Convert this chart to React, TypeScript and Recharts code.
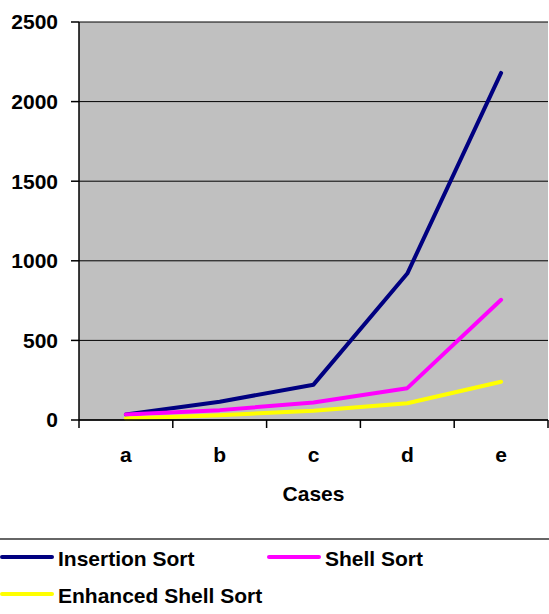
import React from 'react';
import { LineChart, Line, XAxis, YAxis, CartesianGrid } from 'recharts';

const cases = ['a', 'b', 'c', 'd', 'e'];
const insertionSort = [35, 115, 222, 920, 2180];
const shellSort = [35, 62, 110, 200, 755];
const enhancedShellSort = [10, 30, 58, 105, 240];
const yTicks = [0, 500, 1000, 1500, 2000, 2500];

const series = [
  { key: 'insertion', name: 'Insertion Sort', color: '#000080' },
  { key: 'shell', name: 'Shell Sort', color: '#FF00FF' },
  { key: 'enhanced', name: 'Enhanced Shell Sort', color: '#FFFF00' },
];

const data = cases.map((c, i) => ({
  case: c,
  insertion: insertionSort[i],
  shell: shellSort[i],
  enhanced: enhancedShellSort[i],
}));

const font = '"Liberation Sans", Arial, sans-serif';
const tickStyle = { fill: '#000', fontSize: 21, fontWeight: 'bold', fontFamily: font };
const LABEL_GAP = 27;

function ChartLegend() {
  const slots = [
    { x: 0, y: 557 },
    { x: 267, y: 557 },
    { x: 0, y: 594 },
  ];
  return (
    <svg width={549} height={76} style={{ position: 'absolute', left: 0, top: 538 }}>
      <line x1={0} y1={1} x2={549} y2={1} stroke="#333" strokeWidth={1.5} />
      {series.map((s, i) => {
        const p = slots[i];
        const y = p.y - 538;
        return (
          <g key={s.key}>
            <line x1={p.x + 2} y1={y} x2={p.x + 52} y2={y} stroke={s.color} strokeWidth={4} strokeLinecap="round" />
            <text x={p.x + 58} y={y + 9} fontSize={21} fontWeight="bold" fontFamily={font} fill="#000">
              {s.name}
            </text>
          </g>
        );
      })}
    </svg>
  );
}

// category label plus tick marks on the band edges
function CaseTick(props: any) {
  const { x, y, payload, index } = props;
  const half = payload.offset || 0;
  const axisY = y - LABEL_GAP;
  const last = index === cases.length - 1;
  return (
    <g>
      <line x1={x - half} y1={axisY} x2={x - half} y2={axisY + 8} stroke="#000" strokeWidth={1.5} />
      {last && <line x1={x + half} y1={axisY} x2={x + half} y2={axisY + 8} stroke="#000" strokeWidth={1.5} />}
      <text x={x} y={y} dy="0.71em" textAnchor="middle" {...tickStyle}>
        {payload.value}
      </text>
    </g>
  );
}

export default function App() {
  return (
    <div style={{ position: 'absolute', left: 0, top: 0, width: 549, height: 614, background: '#fff' }}>
      <LineChart width={549} height={614} data={data} margin={{ top: 22, right: 1, left: 0, bottom: 76 }}>
        <CartesianGrid vertical={false} stroke="#000" fill="#C0C0C0" fillOpacity={1} />
        <XAxis
          dataKey="case"
          scale="band"
          height={118}
          tickLine={false}
          tickSize={0}
          tickMargin={LABEL_GAP}
          axisLine={{ stroke: '#000', strokeWidth: 1.5 }}
          tick={CaseTick}
          label={{ value: 'Cases', position: 'insideBottom', offset: 37, style: tickStyle }}
        />
        <XAxis
          xAxisId="top"
          orientation="top"
          dataKey="case"
          scale="band"
          height={0}
          tick={false}
          tickLine={false}
          axisLine={{ stroke: '#808080', strokeWidth: 2.5 }}
        />
        <YAxis
          width={79}
          domain={[0, 2500]}
          ticks={yTicks}
          tickSize={8}
          tickMargin={13}
          axisLine={{ stroke: '#000', strokeWidth: 1.5 }}
          tickLine={{ stroke: '#000', strokeWidth: 1.5 }}
          tick={tickStyle}
        />
        <YAxis
          yAxisId="right"
          orientation="right"
          width={0}
          domain={[0, 2500]}
          tick={false}
          tickLine={false}
          axisLine={{ stroke: '#808080', strokeWidth: 1.5 }}
        />
        {series.map((s) => (
          <Line
            key={s.key}
            type="linear"
            dataKey={s.key}
            name={s.name}
            stroke={s.color}
            strokeWidth={4}
            strokeLinecap="round"
            strokeLinejoin="round"
            dot={false}
            activeDot={false}
            isAnimationActive={false}
          />
        ))}
      </LineChart>
      <ChartLegend />
    </div>
  );
}
